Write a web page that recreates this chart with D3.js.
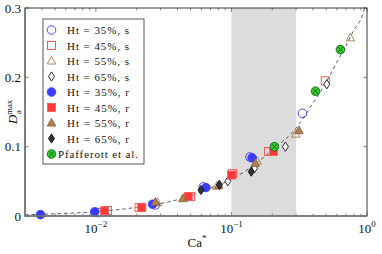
<!DOCTYPE html>
<html>
<head>
<meta charset="utf-8">
<script src="https://cdn.jsdelivr.net/npm/d3@7"></script>
<style>
  body { margin: 0; background: #fff; }
</style>
</head>
<body>
<div class="canva"></div>
<script>
// values: [Ca*, D_a^max]
const ht35s = [[0.0103, 0.005], [0.0275, 0.016], [0.062, 0.042], [0.137, 0.085], [0.334, 0.148]];
const ht45s = [[0.0122, 0.008], [0.0208, 0.012], [0.05, 0.028], [0.102, 0.061], [0.188, 0.093], [0.492, 0.195]];
const ht55s = [[0.0285, 0.019], [0.0455, 0.026], [0.078, 0.043], [0.155, 0.079], [0.298, 0.118], [0.755, 0.257]];
const ht65s = [[0.094, 0.05], [0.148, 0.069], [0.25, 0.1], [0.505, 0.19]];
const ht35r = [[0.0039, 0.002], [0.0098, 0.006], [0.0262, 0.017], [0.0648, 0.041], [0.142, 0.084]];
const ht45r = [[0.0116, 0.0075], [0.0218, 0.0125], [0.048, 0.028], [0.1, 0.059], [0.204, 0.093]];
const ht55r = [[0.0275, 0.02], [0.0438, 0.025], [0.0806, 0.044], [0.15, 0.076], [0.315, 0.123]];
const ht65r = [[0.0596, 0.0375], [0.0815, 0.045], [0.14, 0.064]];
const pfafferott = [[0.2075, 0.1], [0.417, 0.18], [0.637, 0.24]];

// dashed guide curve
const fitCa = [0.003, 0.005, 0.01, 0.02, 0.03, 0.05, 0.07, 0.1, 0.15, 0.2, 0.3, 0.4, 0.5, 0.6, 0.7, 0.8, 0.927, 0.96];
const fitD = [0.0018, 0.0032, 0.0062, 0.0125, 0.018, 0.029, 0.04, 0.053, 0.075, 0.095, 0.127, 0.163, 0.193, 0.222, 0.246, 0.268, 0.29, 0.3];

const band = [0.1, 0.3];
const yTicks = [0, 0.1, 0.2, 0.3];
const xTicks = [0.01, 0.1, 1];
const xTickLabels = ['\u22122', '\u22121', '0'];

const legendLabels = ['Ht = 35%, s', 'Ht = 45%, s', 'Ht = 55%, s', 'Ht = 65%, s',
  'Ht = 35%, r', 'Ht = 45%, r', 'Ht = 55%, r', 'Ht = 65%, r', 'Pfafferott et al.'];

const W = 382, H = 254;
const x = d3.scaleLog().domain([0.003, 1]).range([25, 367]);
const y = d3.scaleLinear().domain([0, 0.3]).range([216, 8]);

const svg = d3.select('.canva').append('svg')
  .attr('width', W).attr('height', H)
  .attr('font-family', "'Liberation Serif', 'Times New Roman', 'DejaVu Serif', serif")
  .style('font-family', "'Liberation Serif', 'Times New Roman', 'DejaVu Serif', serif");

svg.append('defs').append('clipPath').attr('id', 'clip')
  .append('rect').attr('x', 25).attr('y', 8).attr('width', 342).attr('height', 208);

// shaded band
svg.append('rect')
  .attr('x', x(band[0])).attr('y', 8)
  .attr('width', x(band[1]) - x(band[0])).attr('height', 208)
  .attr('fill', '#dcdcdc');

// ticks (inward, mirrored)
const minor = [];
for (let e = -3; e < 0; e++) {
  for (let k = 2; k <= 9; k++) {
    const v = k * Math.pow(10, e);
    if (v > 0.003 && v < 1) minor.push(v);
  }
}
const tk = svg.append('g').attr('stroke', '#444').attr('stroke-width', 0.6);
minor.forEach(v => {
  tk.append('line').attr('x1', x(v)).attr('x2', x(v)).attr('y1', 216).attr('y2', 213.5);
  tk.append('line').attr('x1', x(v)).attr('x2', x(v)).attr('y1', 8).attr('y2', 10.5);
});
xTicks.forEach(v => {
  tk.append('line').attr('x1', x(v)).attr('x2', x(v)).attr('y1', 216).attr('y2', 212);
  tk.append('line').attr('x1', x(v)).attr('x2', x(v)).attr('y1', 8).attr('y2', 12);
});
yTicks.forEach(v => {
  tk.append('line').attr('x1', 25).attr('x2', 29).attr('y1', y(v)).attr('y2', y(v));
  tk.append('line').attr('x1', 367).attr('x2', 363).attr('y1', y(v)).attr('y2', y(v));
});

// guide curve
const pts = fitCa.map((c, i) => [c, fitD[i]]);
svg.append('path')
  .datum(pts)
  .attr('clip-path', 'url(#clip)')
  .attr('d', d3.line().x(d => x(d[0])).y(d => y(d[1])).curve(d3.curveMonotoneX))
  .attr('fill', 'none').attr('stroke', '#333').attr('stroke-width', 0.8)
  .attr('stroke-dasharray', '3.5,3');

// marker shapes
function drawMark(g, type, cx, cy) {
  const s = g.append('g').attr('transform', `translate(${cx},${cy})`);
  if (type === 'circle') {
    s.append('circle').attr('r', 4.3);
  } else if (type === 'square') {
    s.append('rect').attr('x', -4).attr('y', -4).attr('width', 8).attr('height', 8);
  } else if (type === 'triangle') {
    s.append('path').attr('d', 'M0,-4.6L4.2,3L-4.2,3Z');
  } else if (type === 'diamond') {
    s.append('path').attr('d', 'M0,-4.6L3,0L0,4.6L-3,0Z');
  } else if (type === 'otimes') {
    s.append('circle').attr('r', 4.3);
    s.append('path').attr('d', 'M-3,-3L3,3M-3,3L3,-3').attr('fill', 'none');
  }
  return s;
}

const series = [
  { data: ht35s, type: 'circle', fill: 'none', stroke: '#3333ff' },
  { data: ht45s, type: 'square', fill: 'none', stroke: '#ff4444' },
  { data: ht55s, type: 'triangle', fill: 'none', stroke: '#a8784a' },
  { data: ht65s, type: 'diamond', fill: '#fff', stroke: '#111' },
  { data: ht35r, type: 'circle', fill: '#3b3bff', stroke: '#3b3bff' },
  { data: ht45r, type: 'square', fill: '#ff3838', stroke: '#ff6060' },
  { data: ht55r, type: 'triangle', fill: '#b08050', stroke: '#8a6238' },
  { data: ht65r, type: 'diamond', fill: '#333', stroke: '#111' },
  { data: pfafferott, type: 'otimes', fill: '#33cc33', stroke: '#116611' }
];

const marks = svg.append('g');
series.forEach(s => {
  const g = marks.append('g')
    .attr('fill', s.fill).attr('stroke', s.stroke).attr('stroke-width', 0.9);
  s.data.forEach(d => drawMark(g, s.type, x(d[0]), y(d[1])));
});

// frame
svg.append('rect').attr('x', 25).attr('y', 8).attr('width', 342).attr('height', 208)
  .attr('fill', 'none').attr('stroke', '#222').attr('stroke-width', 0.9);
svg.append('path').attr('d', 'M25,8V216H367')
  .attr('fill', 'none').attr('stroke', '#777').attr('stroke-width', 1.6);

// tick labels
yTicks.forEach(v => {
  svg.append('text').attr('x', 21).attr('y', y(v) + 4.5)
    .attr('text-anchor', 'end').attr('font-size', 13).attr('fill', '#111')
    .text(v === 0 ? '0' : String(v));
});
xTicks.forEach((v, i) => {
  const t = svg.append('text').attr('x', x(v)).attr('y', 233)
    .attr('text-anchor', 'middle').attr('font-size', 13).attr('fill', '#111');
  t.append('tspan').text('10');
  t.append('tspan').attr('font-size', 9).attr('dy', -6).text(xTickLabels[i]);
});

// axis labels
const xl = svg.append('text').attr('x', 197).attr('y', 247)
  .attr('text-anchor', 'middle').attr('font-size', 13).attr('fill', '#111');
xl.append('tspan').text('Ca');
xl.append('tspan').attr('font-size', 9).attr('dy', -6).text('*');

const yl = svg.append('text').attr('transform', 'translate(17,112) rotate(-90)')
  .attr('text-anchor', 'middle').attr('font-size', 13).attr('fill', '#111');
yl.append('tspan').attr('font-style', 'italic').text('D');
yl.append('tspan').attr('font-size', 8.5).attr('dy', -5.5).text('max');
yl.append('tspan').attr('font-size', 8.5).attr('dx', -14).attr('dy', 9).text('a');

// legend
const lg = svg.append('g');
lg.append('rect').attr('x', 43).attr('y', 19).attr('width', 101).attr('height', 145)
  .attr('fill', '#fff').attr('stroke', '#444').attr('stroke-width', 0.9);
legendLabels.forEach((lab, i) => {
  const ly = 30 + i * 15.5;
  const s = series[i];
  const g = lg.append('g').attr('fill', s.fill).attr('stroke', s.stroke).attr('stroke-width', 0.9);
  drawMark(g, s.type, 51.5, ly);
  const last = i === legendLabels.length - 1;
  lg.append('text').attr('x', last ? 58 : 67).attr('y', ly + 4)
    .attr('font-size', 11).attr('fill', '#111')
    .attr('textLength', last ? 80 : 62).attr('lengthAdjust', 'spacing')
    .text(lab);
});
</script>
</body>
</html>
